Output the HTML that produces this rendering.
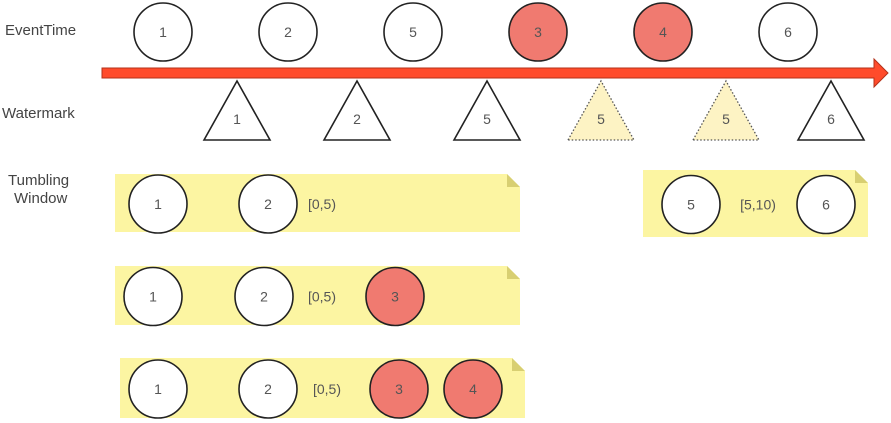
<!DOCTYPE html>
<html><head><meta charset="utf-8">
<style>
html,body{margin:0;padding:0;background:#fff;}
svg{display:block;font-family:"Liberation Sans","DejaVu Sans",sans-serif;}
</style></head>
<body>
<svg id="diagram" width="891" height="423" viewBox="0 0 891 423" xmlns="http://www.w3.org/2000/svg">
  <text x="5" y="35" font-size="15" fill="#444">EventTime</text>
  <text x="2" y="118" font-size="15" fill="#444">Watermark</text>
  <text x="8" y="185" font-size="15" fill="#444">Tumbling</text>
  <text x="14" y="203" font-size="15" fill="#444">Window</text>
  <polygon points="102,68 874,68 874,59 888,73 874,87 874,78 102,78" fill="#ff4b2b" stroke="#b3321a" stroke-width="1"/>
  <g id="layer"></g>
</svg>
<script>
const eventValues = [1, 2, 5, 3, 4, 6];
const eventLate = [false, false, false, true, true, false];
const eventX = [163, 288, 413, 538, 663, 788];
const watermarkValues = [1, 2, 5, 5, 5, 6];
const watermarkStale = [false, false, false, true, true, false];
const watermarkX = [237, 357, 487, 601, 726, 831];
const windowLabels = ["[0,5)", "[5,10)", "[0,5)", "[0,5)"];
const windowItems = [[1, 2], [5, 6], [1, 2, 3], [1, 2, 3, 4]];
const windowLate = [[false, false], [false, false], [false, false, true], [false, false, true, true]];
const windowBoxes = [[115, 174, 405, 58], [643, 170, 225, 67], [115, 266, 405, 59], [120, 358, 405, 60]];
const windowItemX = [[158, 268], [691, 826], [153, 264, 395], [158, 268, 399, 473]];
const windowLabelX = [322, 758, 322, 327];

const NS = "http://www.w3.org/2000/svg";
const layer = document.getElementById("layer");
function mk(tag, attrs) {
  const e = document.createElementNS(NS, tag);
  for (const k in attrs) e.setAttribute(k, attrs[k]);
  layer.appendChild(e);
  return e;
}
function circle(cx, cy, v, late, name) {
  const c = mk("circle", {cx: cx, cy: cy, r: 29, fill: late ? "#f07a70" : "#fff", stroke: "#222", "stroke-width": 1.6});
  
  
  const t = mk("text", {x: cx, y: cy + 5, "text-anchor": "middle", "font-size": 14, fill: "#555"});
  t.textContent = v;
  
  
}
eventValues.forEach((v, i) => circle(eventX[i], 32, v, eventLate[i], 'event-' + v + '-circle'));
watermarkValues.forEach((v, i) => {
  const x = watermarkX[i];
  const stale = watermarkStale[i];
  const p = mk("polygon", {points: (x - 33) + ",140 " + x + ",81 " + (x + 33) + ",140",
    fill: stale ? "#fdf3c4" : "#fff", stroke: stale ? "#555" : "#222",
    "stroke-width": stale ? 1.3 : 1.6, "stroke-dasharray": stale ? "1.5,2" : "none"});
  
  
  const t = mk("text", {x: x, y: 124, "text-anchor": "middle", "font-size": 14, fill: "#555"});
  t.textContent = v;
  
  
});
windowBoxes.forEach((b, w) => {
  const [x, y, wd, h] = b, f = 13;
  const r = mk("polygon", {points: x + "," + y + " " + (x + wd - f) + "," + y + " " + (x + wd) + "," + (y + f) + " " + (x + wd) + "," + (y + h) + " " + x + "," + (y + h), fill: "#fcf5a2"});
  
  
  const fold = mk("polygon", {points: (x + wd - f) + "," + y + " " + (x + wd) + "," + (y + f) + " " + (x + wd - f) + "," + (y + f), fill: "#d8cf72"});
  
  
  const cy = y + h / 2 + 1;
  windowItems[w].forEach((v, j) => circle(windowItemX[w][j], cy, v, windowLate[w][j], 'window-' + (w + 1) + '-item-' + v));
  const t = mk("text", {x: windowLabelX[w], y: cy + 5, "text-anchor": "middle", "font-size": 14, fill: "#555"});
  t.textContent = windowLabels[w];
  
  
});
</script>
</body></html>
